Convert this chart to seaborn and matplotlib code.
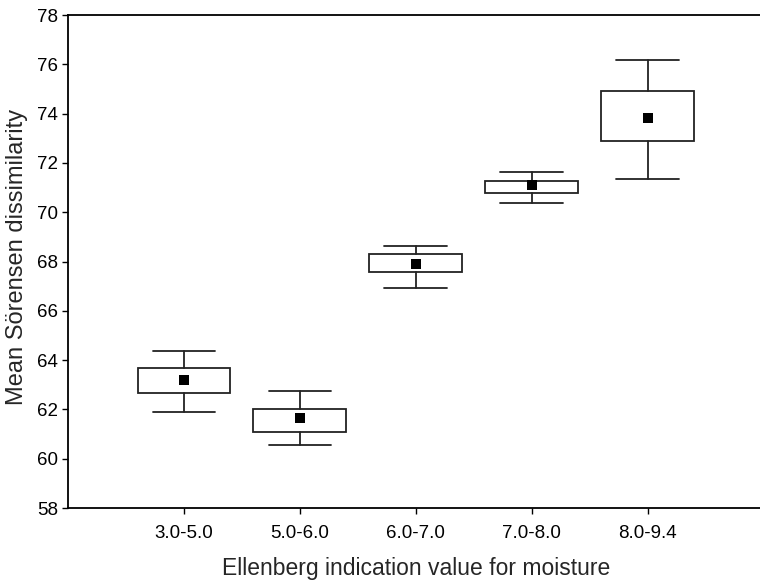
import pandas as pd
import matplotlib
matplotlib.use("Agg")
import matplotlib.pyplot as plt
import seaborn as sns

# values (mean, box = mean +/- SE, whiskers = mean +/- SD)
groups = ["3.0-5.0", "5.0-6.0", "6.0-7.0", "7.0-8.0", "8.0-9.4"]
means = [63.2, 61.64, 67.89, 71.10, 73.81]
box_lo = [62.65, 61.10, 67.56, 70.79, 72.90]
box_hi = [63.67, 62.00, 68.29, 71.28, 74.93]
whis_lo = [61.88, 60.57, 66.93, 70.39, 71.35]
whis_hi = [64.38, 62.73, 68.64, 71.63, 76.19]

sns.set_style("ticks")
plt.rcParams["font.family"] = ["Liberation Sans", "DejaVu Sans"]

df = pd.DataFrame({"group": groups, "mean": means})

fig = plt.figure(figsize=(7.6, 5.8), dpi=100)
ax = fig.add_axes([0.0895, 0.124, 0.915, 0.850])

stats = []
for g, m, lo, hi, wlo, whi in zip(groups, means, box_lo, box_hi, whis_lo, whis_hi):
    stats.append({"label": g, "med": m, "q1": lo, "q3": hi,
                  "whislo": wlo, "whishi": whi, "fliers": []})

line = dict(color="#222222", linewidth=1.3)
ax.bxp(stats, positions=range(len(groups)), widths=0.8, capwidths=0.54,
       patch_artist=True, manage_ticks=False, showfliers=False,
       boxprops=dict(facecolor="white", edgecolor="#222222", linewidth=1.3),
       whiskerprops=line, capprops=line,
       medianprops=dict(linewidth=0))

sns.scatterplot(data=df, x="group", y="mean", marker="s", s=55,
                color="black", edgecolor="black", linewidth=0, zorder=5, ax=ax)

ax.set_xlim(-1, 5)
ax.set_ylim(58, 78)
ax.set_yticks(range(58, 79, 2))
ax.set_xticks(range(len(groups)))
ax.set_xticklabels(groups)

for side in ["left", "top", "bottom"]:
    ax.spines[side].set_visible(True)
    ax.spines[side].set_linewidth(1.3)
    ax.spines[side].set_color("black")
ax.spines["right"].set_visible(False)

ax.tick_params(axis="both", labelsize=13.5, length=4, width=1, color="black",
               labelcolor="black")
ax.tick_params(axis="x", pad=8)
ax.tick_params(axis="y", pad=3)

ax.set_xlabel("Ellenberg indication value for moisture", fontsize=16.5, labelpad=11)
ax.set_ylabel("Mean Sörensen dissimilarity", fontsize=17, labelpad=7)
ax.yaxis.set_label_coords(-0.058, 0.51)

fig.savefig("out.png", dpi=100)
